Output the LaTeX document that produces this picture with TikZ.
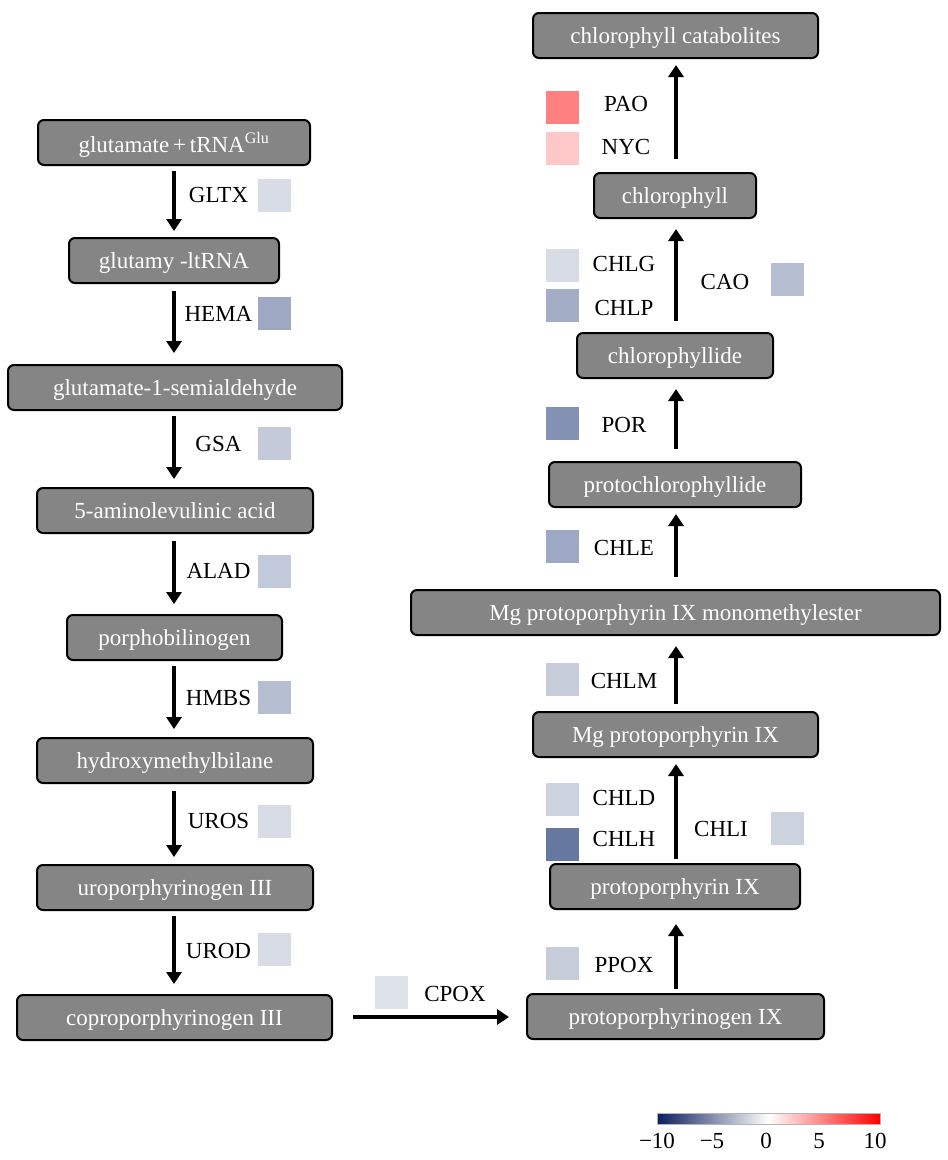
\documentclass[tikz,border=0pt]{standalone}
\usepackage{fontspec}
\setmainfont{Liberation Serif}
\usetikzlibrary{arrows.meta}
\definecolor{boxgray}{HTML}{858585}
\definecolor{navy}{HTML}{0B1F5E}
\begin{document}
\begin{tikzpicture}[x=1pt,y=-1pt,
  box/.style={draw=black, line width=2pt, rounded corners=6pt, fill=boxgray, text=white,
    minimum height=45pt, inner sep=0pt, text height=18pt, text depth=2pt, font=\fontsize{23}{27}\selectfont},
  sq/.style={minimum size=33pt, inner sep=0pt, draw=none},
  lab/.style={inner sep=0pt, font=\fontsize{23}{27}\selectfont},
  arr/.style={line width=3.5pt, -{Triangle[length=12pt,width=15pt]}}]
\useasboundingbox (0,0) rectangle (948,1160);
% left column
\node[box, minimum width=272pt] (glu) at (174,142.5) {\raisebox{-2pt}{glutamate\,+\,tRNA\textsuperscript{Glu}}};
\node[box, minimum width=210pt] (gtrna) at (174,260.5) {glutamy -ltRNA};
\node[box, minimum width=334pt] (gsa) at (175,387.5) {glutamate-1-semialdehyde};
\node[box, minimum width=276pt] (ala) at (175,510.5) {5-aminolevulinic acid};
\node[box, minimum width=215pt] (pbg) at (174.5,637.5) {porphobilinogen};
\node[box, minimum width=276pt] (hmb) at (175,760.5) {hydroxymethylbilane};
\node[box, minimum width=276pt] (uro) at (175,887.5) {uroporphyrinogen III};
\node[box, minimum width=315pt] (copro) at (174.5,1017.5) {coproporphyrinogen III};
% right column
\node[box, minimum width=285pt] (cat) at (675.5,35.5) {chlorophyll catabolites};
\node[box, minimum width=162pt] (chl) at (675,195.5) {chlorophyll};
\node[box, minimum width=196pt] (chlide) at (675,355.5) {chlorophyllide};
\node[box, minimum width=252pt] (pchlide) at (675,484.5) {protochlorophyllide};
\node[box, minimum width=529pt] (mgme) at (675.5,612.5) {Mg protoporphyrin IX monomethylester};
\node[box, minimum width=285pt] (mgp) at (675.5,734.5) {Mg protoporphyrin IX};
\node[box, minimum width=250pt] (pp) at (675,886.5) {protoporphyrin IX};
\node[box, minimum width=297pt] (ppg) at (675.5,1016.5) {protoporphyrinogen IX};
% left arrows
\draw[arr, shorten <=5pt, shorten >=6pt] (glu.south -| 174,0) -- (gtrna.north -| 174,0);
\draw[arr, shorten <=7pt, shorten >=11pt] (gtrna.south -| 174,0) -- (gsa.north -| 174,0);
\draw[arr, shorten <=5pt, shorten >=8pt] (gsa.south -| 174,0) -- (ala.north -| 174,0);
\draw[arr, shorten <=7pt, shorten >=10pt] (ala.south -| 174,0) -- (pbg.north -| 174,0);
\draw[arr, shorten <=5pt, shorten >=8pt] (pbg.south -| 174,0) -- (hmb.north -| 174,0);
\draw[arr, shorten <=7pt, shorten >=7pt] (hmb.south -| 174,0) -- (uro.north -| 174,0);
\draw[arr, shorten <=5pt, shorten >=10pt] (uro.south -| 174,0) -- (copro.north -| 174,0);
\draw[arr, shorten <=20pt, shorten >=17pt] (copro.east |- 0,1017) -- (ppg.west |- 0,1017);
% right arrows
\draw[arr, shorten <=4pt, shorten >=14pt] (ppg.north -| 676,0) -- (pp.south -| 676,0);
\draw[arr, shorten <=4pt, shorten >=6pt] (pp.north -| 676,0) -- (mgp.south -| 676,0);
\draw[arr, shorten <=7pt, shorten >=10pt] (mgp.north -| 676,0) -- (mgme.south -| 676,0);
\draw[arr, shorten <=12pt, shorten >=6pt] (mgme.north -| 676,0) -- (pchlide.south -| 676,0);
\draw[arr, shorten <=12pt, shorten >=10pt] (pchlide.north -| 676,0) -- (chlide.south -| 676,0);
\draw[arr, shorten <=11pt, shorten >=10pt] (chlide.north -| 676,0) -- (chl.south -| 676,0);
\draw[arr, shorten <=13pt, shorten >=6pt] (chl.north -| 676,0) -- (cat.south -| 676,0);
% left labels and squares
\node[lab] (lgltx) at (218.5,195) {GLTX};
\node[sq, fill={rgb,255:red,216;green,220;blue,230}] (sgltx) at (274.5,195) {};
\node[lab] (lhema) at (218.5,314) {HEMA};
\node[sq, fill={rgb,255:red,158;green,168;blue,194}] (shema) at (274.5,313.5) {};
\node[lab] (lgsa) at (218.5,444) {GSA};
\node[sq, fill={rgb,255:red,196;green,202;blue,218}] (sgsa) at (274.5,443.5) {};
\node[lab] (lalad) at (218.5,571) {ALAD};
\node[sq, fill={rgb,255:red,194;green,201;blue,218}] (salad) at (274.5,571.5) {};
\node[lab] (lhmbs) at (218.5,698) {HMBS};
\node[sq, fill={rgb,255:red,182;green,190;blue,210}] (shmbs) at (274.5,697.5) {};
\node[lab] (luros) at (218.5,821) {UROS};
\node[sq, fill={rgb,255:red,216;green,220;blue,230}] (suros) at (274.5,821.5) {};
\node[lab] (lurod) at (218.5,951) {UROD};
\node[sq, fill={rgb,255:red,216;green,220;blue,230}] (surod) at (274.5,949.5) {};
\node[sq, fill={rgb,255:red,222;green,226;blue,234}] (scpox) at (391.5,992) {};
\node[lab] (lcpox) at (455,994) {CPOX};
% right labels and squares
\node[sq, fill={rgb,255:red,255;green,128;blue,128}] (spao) at (562.5,107.5) {};
\node[lab] (lpao) at (626,104) {PAO};
\node[sq, fill={rgb,255:red,255;green,200;blue,200}] (snyc) at (562.5,148.5) {};
\node[lab] (lnyc) at (626,147) {NYC};
\node[sq, fill={rgb,255:red,216;green,220;blue,230}] (schlg) at (562.5,265.5) {};
\node[lab] (lchlg) at (624,264) {CHLG};
\node[sq, fill={rgb,255:red,163;green,173;blue,198}] (schlp) at (562.5,305.5) {};
\node[lab] (lchlp) at (624,308) {CHLP};
\node[lab] (lcao) at (725,282) {CAO};
\node[sq, fill={rgb,255:red,182;green,191;blue,210}] (scao) at (787.5,279.5) {};
\node[sq, fill={rgb,255:red,131;green,145;blue,178}] (spor) at (562.5,423.5) {};
\node[lab] (lpor) at (624,425) {POR};
\node[sq, fill={rgb,255:red,157;green,169;blue,196}] (schle) at (562.5,546.5) {};
\node[lab] (lchle) at (624,548) {CHLE};
\node[sq, fill={rgb,255:red,198;green,204;blue,218}] (schlm) at (562.5,679.5) {};
\node[lab] (lchlm) at (624,681) {CHLM};
\node[sq, fill={rgb,255:red,205;green,210;blue,223}] (schld) at (562.5,799.5) {};
\node[lab] (lchld) at (624,798) {CHLD};
\node[sq, fill={rgb,255:red,102;green,119;blue,160}] (schlh) at (562.5,844.5) {};
\node[lab] (lchlh) at (624,839) {CHLH};
\node[lab] (lchli) at (721,829) {CHLI};
\node[sq, fill={rgb,255:red,205;green,210;blue,223}] (schli) at (787.5,828.5) {};
\node[sq, fill={rgb,255:red,198;green,204;blue,218}] (sppox) at (562.5,963.5) {};
\node[lab] (lppox) at (624,965) {PPOX};
% colour bar
\shade[left color=navy, right color=red, middle color=white, draw={rgb,255:red,180;green,180;blue,180}, line width=0.6pt]
  (657,1113) rectangle (880,1124);
\node[lab] (t1) at (657,1141) {−10};
\node[lab] (t2) at (712,1141) {−5};
\node[lab] (t3) at (766,1141) {0};
\node[lab] (t4) at (819,1141) {5};
\node[lab] (t5) at (875,1141) {10};
\end{tikzpicture}
\end{document}
